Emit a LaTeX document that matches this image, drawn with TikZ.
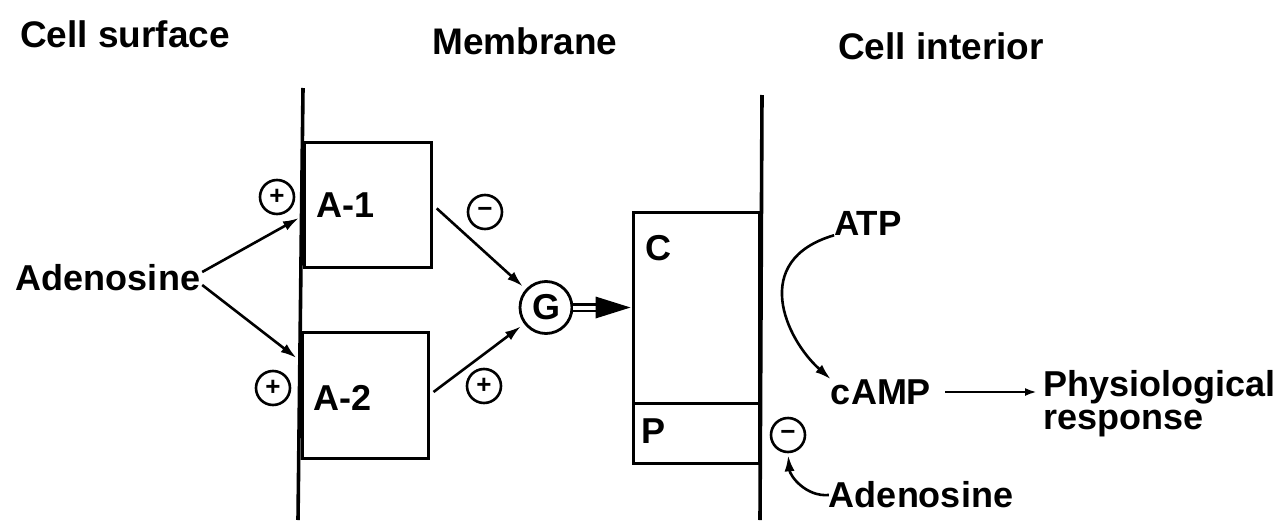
\documentclass[tikz,border=0pt]{standalone}
\usepackage{fontspec}
\setmainfont{Liberation Sans}
\usetikzlibrary{arrows.meta,positioning,calc}

\begin{document}
\begin{tikzpicture}[x=1pt, y=-1pt,
    box/.style={draw, line width=3pt, inner sep=0pt},
    lbl/.style={inner sep=0pt, font=\fontsize{36}{38}\selectfont\bfseries},
    sgn/.style={circle, draw, line width=2.6pt, minimum size=34pt, inner sep=0pt, font=\fontsize{26}{26}\selectfont\bfseries},
    arr/.style={line width=2.6pt, -{Latex[length=16pt,width=10pt]}},
    memb/.style={line width=3.6pt}]
\useasboundingbox (0,0) rectangle (1280,525);

% Headings
\node[lbl, anchor=base west, font=\fontsize{37}{38}\selectfont\bfseries] (hsurf) at (20,47) {Cell surface};
\node[lbl, anchor=base west, font=\fontsize{37}{38}\selectfont\bfseries] (hmemb) at (432,54) {Membrane};
\node[lbl, anchor=base west, font=\fontsize{37}{38}\selectfont\bfseries] (hint) at (838,59) {Cell interior};

% Membrane
\draw[memb] (303,88) -- (298,520);
\draw[memb] (762,95) -- (760,520);

% Receptors
\node[box, minimum width=127pt, minimum height=125pt] (a1) at (368,205) {};
\node[box, minimum width=126pt, minimum height=126pt] (a2) at (365,395) {};
\node[lbl, right=13pt of a1.west] (a1l) {A-1};
\node[lbl, right=13pt of a2.west, yshift=-3pt] (a2l) {A-2};

% Cyclase
\node[box, minimum width=126pt, minimum height=191pt] (c) at (696,307.5) {};
\node[box, minimum width=126pt, minimum height=60pt] (p) at (696,433) {};
\node[lbl, below right=25pt and 14pt of c.north west] (cl) {C};
\node[lbl, below right=17pt and 10pt of p.north west] (pl) {P};

% G protein
\node[circle, draw, line width=2.8pt, minimum size=52pt, inner sep=0pt,
      font=\fontsize{36}{36}\selectfont\bfseries] (g) at (546,307.5) {G};

% Signs
\node[sgn] (pl1) at (277,197) {+};
\node[sgn] (pl2) at (273,388) {+};
\node[sgn] (mi1) at (485,212) {−};
\node[sgn] (pl3) at (484,386) {+};
\node[sgn] (mi2) at (788,435) {−};

% Outside
\node[lbl] (adl) at (108,278) {Adenosine};
\draw[arr] ($(adl.east)+(2,-6)$) -- ($(a1.west)+(-4,13)$);
\draw[arr] ($(adl.east)+(2,7)$) -- ($(a2.west)+(-4,-37)$);

% To G and C
\draw[arr, shorten <=5pt, shorten >=4pt] (a1.east) -- (g);
\draw[arr, shorten <=5pt, shorten >=4pt] (a2.east) -- (g);
\draw[line width=2.4pt, double distance=4pt] (g) -- ($(c.west)+(-33,0)$);
\fill ($(c.west)+(-36,-11)$) -- ($(c.west)+(-1,0)$) -- ($(c.west)+(-36,11)$) -- cycle;

% Inside
\node[lbl, font=\fontsize{35}{36}\selectfont\bfseries] (atp) at (868,223) {ATP};
\node[lbl] (camp) at (881,392) {cAMP};
\draw[arr] (atp.south west) .. controls +(-85,25) and +(-45,-40) .. (camp.north west);
\node[lbl, align=left, anchor=west, font=\fontsize{36}{33}\selectfont\bfseries] (phys) at (1043,404) {Physiological\\response};
\draw[line width=2.4pt, -{Latex[length=12pt,width=8pt]}, shorten <=14pt, shorten >=6pt] (camp.east) -- (camp.east -| phys.west);
\node[lbl] (adb) at (921,495) {Adenosine};
\draw[arr, shorten >=2pt] (adb.west) to[out=185, in=-85] (mi2.south);
\end{tikzpicture}
\end{document}
